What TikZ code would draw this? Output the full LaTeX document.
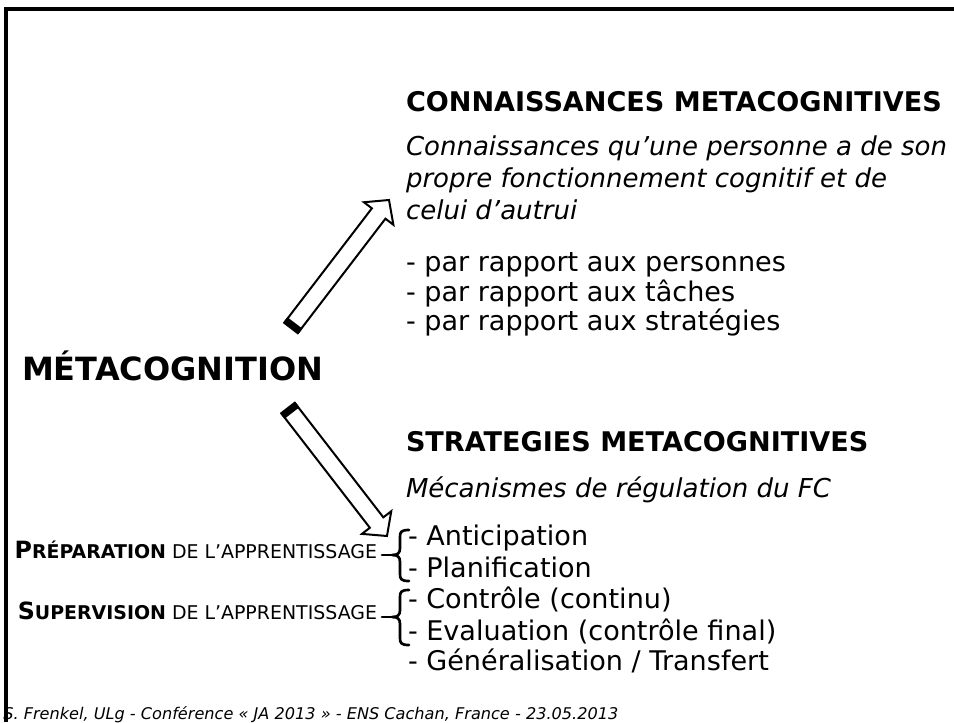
\documentclass[tikz,border=0pt]{standalone}
\usepackage{fontspec}
\setmainfont{DejaVu Sans}
\usetikzlibrary{calc}
\newcommand\bodyf{\fontsize{20.3pt}{24pt}\selectfont}
\newcommand\itf{\fontsize{19.5pt}{24pt}\selectfont\itshape}
\newcommand\bigtitlef{\fontsize{24pt}{28pt}\selectfont\bfseries}
\newcommand\labf{\fontsize{17.8pt}{20pt}\selectfont}
\newcommand\labsm{\fontsize{14.2pt}{16pt}\selectfont}
\newcommand\footf{\fontsize{12.1pt}{14pt}\selectfont\itshape}
\tikzset{
  txt/.style={anchor=base west, inner sep=0pt, outer sep=0pt, font=\bodyf},
  ttl/.style={txt, font=\bodyf\bfseries},
  itl/.style={txt, font=\itf},
  lab/.style={anchor=base east, inner sep=0pt, outer sep=0pt, font=\labf},
  bracestyle/.style={line width=2pt, line cap=round, line join=round},
  frame/.style={line width=2.3pt},
  blockarrow/.style={draw, fill=white, line width=1.5pt, line join=miter},
}
\begin{document}
\begin{tikzpicture}[x=0.75pt,y=-0.75pt]
\useasboundingbox (0,0) rectangle (954,722);
% frame
\draw[frame] (6,722) -- (6,9) -- (954,9);

% main word
\node[txt, font=\bigtitlef] (meta) at (22,380) {MÉTACOGNITION};

% knowledge block
\node[ttl] (ct) at (406,111) {CONNAISSANCES METACOGNITIVES};
\node[itl] (c1) at (406,155) {Connaissances qu’une personne a de son};
\node[itl] (c2) at (406,187) {propre fonctionnement cognitif et de};
\node[itl] (c3) at (406,219) {celui d’autrui};
\node[txt] (l1) at (406,271) {- par rapport aux personnes};
\node[txt] (l2) at (406,301) {- par rapport aux tâches};
\node[txt] (l3) at (406,330) {- par rapport aux stratégies};

% strategies block
\node[ttl] (st) at (406,451) {STRATEGIES METACOGNITIVES};
\node[itl] (s0) at (406,497) {Mécanismes de régulation du FC};
\node[txt] (s1) at (408,545) {- Anticipation};
\node[txt] (s2) at (408,577) {- Planification};
\node[txt] (s3) at (408,608) {- Contrôle (continu)};
\node[txt] (s4) at (408,640) {- Evaluation (contrôle final)};
\node[txt] (s5) at (408,670) {- Généralisation / Transfert};

% labels
\node[lab] (prep) at (377,558) {{\bfseries P{\labsm RÉPARATION}}{\labsm{} DE L’APPRENTISSAGE}};
\node[lab] (sup) at (377,619) {{\bfseries S{\labsm UPERVISION}}{\labsm{} DE L’APPRENTISSAGE}};

% braces
\coordinate (b1t) at (409,530);
\coordinate (b1m) at (392,555);
\coordinate (b1b) at (409,581);
\draw[bracestyle] (b1t) .. controls (401,530) and (400,532) .. (400,537) -- (400,548)
  .. controls (400,553) and (398,555) .. (b1m)
  .. controls (398,555) and (400,557) .. (400,562) -- (400,574)
  .. controls (400,579) and (401,581) .. (b1b);
\draw[bracestyle] (b1m) -- ++(-10,0);
\coordinate (b2t) at (409,590);
\coordinate (b2m) at (392,617);
\coordinate (b2b) at (409,645);
\draw[bracestyle] (b2t) .. controls (401,590) and (400,592) .. (400,597) -- (400,610)
  .. controls (400,615) and (398,617) .. (b2m)
  .. controls (398,617) and (400,619) .. (400,624) -- (400,638)
  .. controls (400,643) and (401,645) .. (b2b);
\draw[bracestyle] (b2m) -- ++(-10,0);

% block arrows
\foreach \nm/\sx/\sy/\ex/\ey in {up/291/328/389/200, dn/288/408/387/536}{
  \coordinate (\nm S) at (\sx,\sy);
  \coordinate (\nm E) at (\ex,\ey);
  \coordinate (\nm H) at ($(\nm E)!12.75pt!(\nm S)$);
  \coordinate (\nm T) at ($(\nm S)!4.8pt!(\nm E)$);
  \draw[blockarrow]
    ($(\nm S)!6.4pt!90:(\nm E)$) -- ($(\nm H)!6.4pt!90:(\nm E)$)
    -- ($(\nm H)!13.9pt!90:(\nm E)$) -- (\nm E)
    -- ($(\nm H)!13.9pt!-90:(\nm E)$) -- ($(\nm H)!6.4pt!-90:(\nm E)$)
    -- ($(\nm S)!6.4pt!-90:(\nm E)$) -- cycle;
  \fill ($(\nm S)!7.1pt!90:(\nm E)$) -- ($(\nm T)!7.1pt!-90:(\nm S)$)
    -- ($(\nm T)!7.1pt!90:(\nm S)$) -- ($(\nm S)!7.1pt!-90:(\nm E)$) -- cycle;
}

% footer
\node[anchor=base west, inner sep=0pt, font=\footf] (foot) at (3,719)
  {S. Frenkel, ULg - Conférence « JA 2013 » - ENS Cachan, France - 23.05.2013};
\end{tikzpicture}
\end{document}
